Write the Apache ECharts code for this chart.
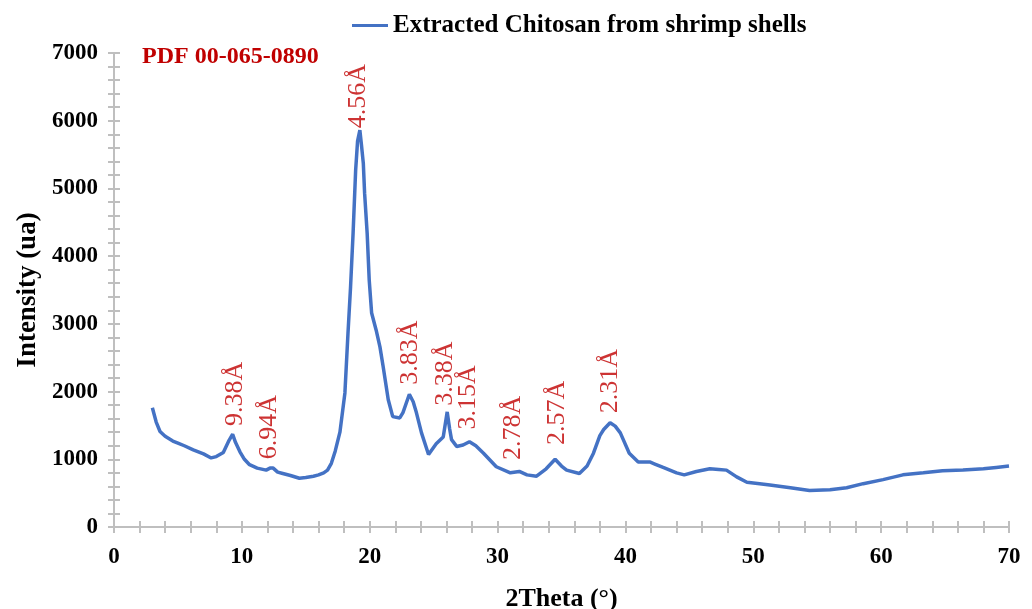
<!DOCTYPE html>
<html>
<head>
<meta charset="utf-8">
<script src="https://cdn.jsdelivr.net/npm/echarts@6/dist/echarts.min.js"></script>
<style>
  html, body { margin: 0; padding: 0; background: #fff; }
  #main { width: 1032px; height: 609px; }
</style>
</head>
<body>
<div id="main"></div>
<script>
// XRD pattern (2theta in degrees, intensity in ua)
const twoTheta = [
  3.0, 3.13, 3.3, 3.6, 4.0, 4.6, 5.0, 5.5, 6.2, 7.0, 7.6, 8.0, 8.55, 9.0, 9.28, 9.5, 9.85,
  10.2, 10.6, 11.2, 11.9, 12.2, 12.45, 12.8, 13.2, 13.8, 14.5, 15.0, 15.6, 16.0, 16.4, 16.7,
  17.0, 17.3, 17.67, 18.06, 18.3, 18.5, 18.7, 18.9, 19.05, 19.23, 19.35, 19.5, 19.6, 19.8,
  19.96, 20.15, 20.5, 20.8, 21.05, 21.45, 21.8, 22.35, 22.6, 23.1, 23.4, 23.65, 24.05, 24.6,
  25.2, 25.75, 26.06, 26.25, 26.4, 26.8, 27.3, 27.8, 28.3, 28.9, 29.9, 31.0, 31.7, 32.3,
  33.05, 33.8, 34.5, 35.0, 35.4, 36.4, 37.0, 37.5, 38.0, 38.3, 38.8, 39.2, 39.6, 40.3, 41.0,
  41.9, 42.3, 42.95, 44.0, 44.6, 45.55, 46.6, 47.3, 47.9, 48.7, 49.5, 50.5, 51.3, 52.9, 54.4,
  56.0, 57.3, 58.6, 60.15, 61.7, 63.3, 64.8, 66.4, 68.0, 69.0, 70.0
];
const intensity = [
  1760, 1740, 1550, 1410, 1340, 1270, 1240, 1200, 1140, 1080, 1020, 1040, 1100, 1280, 1370, 1250, 1110,
  1000, 920, 870, 840, 870, 870, 810, 790, 760, 720, 730, 750, 770, 800, 840,
  940, 1120, 1400, 1980, 2860, 3540, 4340, 5270, 5700, 5860, 5650, 5370, 4930, 4340,
  3650, 3160, 2910, 2660, 2370, 1880, 1630, 1610, 1690, 1960, 1850, 1690, 1390, 1070,
  1230, 1330, 1700, 1450, 1290, 1190, 1210, 1260, 1200, 1090, 890, 800, 820, 770,
  750, 860, 1000, 900, 840, 790, 900, 1090, 1350, 1440, 1540, 1490, 1390, 1090, 960,
  960, 930, 880, 800, 770, 820, 860, 850, 840, 740, 660, 640, 620, 580, 540,
  550, 580, 640, 700, 770, 800, 830, 840, 860, 880, 900
];

// d-spacing annotations: where each label starts (its lower end)
const peakLabels = ['9.38Å', '6.94Å', '4.56Å', '3.83Å', '3.38Å', '3.15Å', '2.78Å', '2.57Å', '2.31Å'];
const peakX = [9.46, 12.12, 19.08, 23.2, 25.9, 27.7, 31.2, 34.7, 38.8];
const peakY = [1490, 1000, 5890, 2100, 1790, 1440, 990, 1210, 1680];

const xTicks = [0, 70, 10];
const yTicks = [0, 7000, 1000];

const seriesName = 'Extracted Chitosan from shrimp shells';
const pdfCard = 'PDF 00-065-0890';

const serif = '"Liberation Serif", "Times New Roman", serif';
const axisGray = '#BFBFBF';
const red = '#C00000';

const lineData = twoTheta.map((t, i) => [t, intensity[i]]);
const labelData = peakX.map((x, i) => ({ value: [x, peakY[i]], name: peakLabels[i] }));

const chart = echarts.init(document.getElementById('main'));

// ticks cross the axis line: the axis is pushed 6px inwards with 12px ticks,
// the line itself is drawn by a markLine at zero
const tickHalf = 6;
const tickStyle = { color: axisGray, width: 2 };

chart.setOption({
  backgroundColor: '#fff',
  animation: false,
  title: {
    text: pdfCard,
    left: 142, top: 45, padding: 0,
    textStyle: { color: red, fontFamily: serif, fontWeight: 'bold', fontSize: 24 }
  },
  legend: {
    data: [seriesName],
    top: 8, left: 347,
    icon: 'rect', itemWidth: 36, itemHeight: 3, itemGap: 6,
    textStyle: { color: '#000', fontFamily: serif, fontWeight: 'bold', fontSize: 25 }
  },
  grid: { left: 114, right: 23, top: 53, bottom: 82, containLabel: false, outerBoundsMode: 'none' },
  xAxis: {
    type: 'value',
    position: 'bottom',
    offset: -tickHalf,
    min: xTicks[0], max: xTicks[1], interval: xTicks[2],
    splitLine: { show: false },
    axisLine: { show: false, onZero: false },
    axisTick: { show: true, length: tickHalf * 2, lineStyle: tickStyle },
    minorTick: { show: true, splitNumber: 5, length: tickHalf * 2, lineStyle: tickStyle },
    name: '2Theta (°)', nameLocation: 'middle', nameGap: 65,
    nameTextStyle: { color: '#000', fontFamily: serif, fontWeight: 'bold', fontSize: 26 },
    axisLabel: { color: '#000', fontFamily: serif, fontWeight: 'bold', fontSize: 23, margin: 25 }
  },
  yAxis: {
    type: 'value',
    position: 'left',
    offset: -tickHalf,
    min: yTicks[0], max: yTicks[1], interval: yTicks[2],
    splitLine: { show: false },
    axisLine: { show: false, onZero: false },
    axisTick: { show: true, length: tickHalf * 2, lineStyle: tickStyle },
    minorTick: { show: true, splitNumber: 5, length: tickHalf * 2, lineStyle: tickStyle },
    name: 'Intensity (ua)', nameLocation: 'middle', nameGap: 76,
    nameTextStyle: { color: '#000', fontFamily: serif, fontWeight: 'bold', fontSize: 27 },
    axisLabel: {
      color: '#000', fontFamily: serif, fontWeight: 'bold', fontSize: 23, margin: 22,
      formatter: v => String(v)
    }
  },
  series: [
    {
      name: seriesName,
      type: 'line',
      data: lineData,
      showSymbol: false,
      lineStyle: { color: '#4472C4', width: 3.5 },
      itemStyle: { color: '#4472C4' },
      z: 3
    },
    {
      name: 'labels',
      type: 'scatter',
      data: labelData,
      symbolSize: 1,
      itemStyle: { color: 'rgba(0,0,0,0)' },
      label: {
        show: true,
        position: 'inside',
        rotate: 90,
        align: 'left',
        verticalAlign: 'middle',
        formatter: p => p.name,
        color: red,
        fontFamily: serif,
        fontSize: 26
      },
      markLine: {
        silent: true,
        symbol: 'none',
        label: { show: false },
        lineStyle: { color: axisGray, width: 2, type: 'solid' },
        data: [{ xAxis: xTicks[0] }, { yAxis: yTicks[0] }]
      },
      z: 4
    }
  ]
});
</script>
</body>
</html>
